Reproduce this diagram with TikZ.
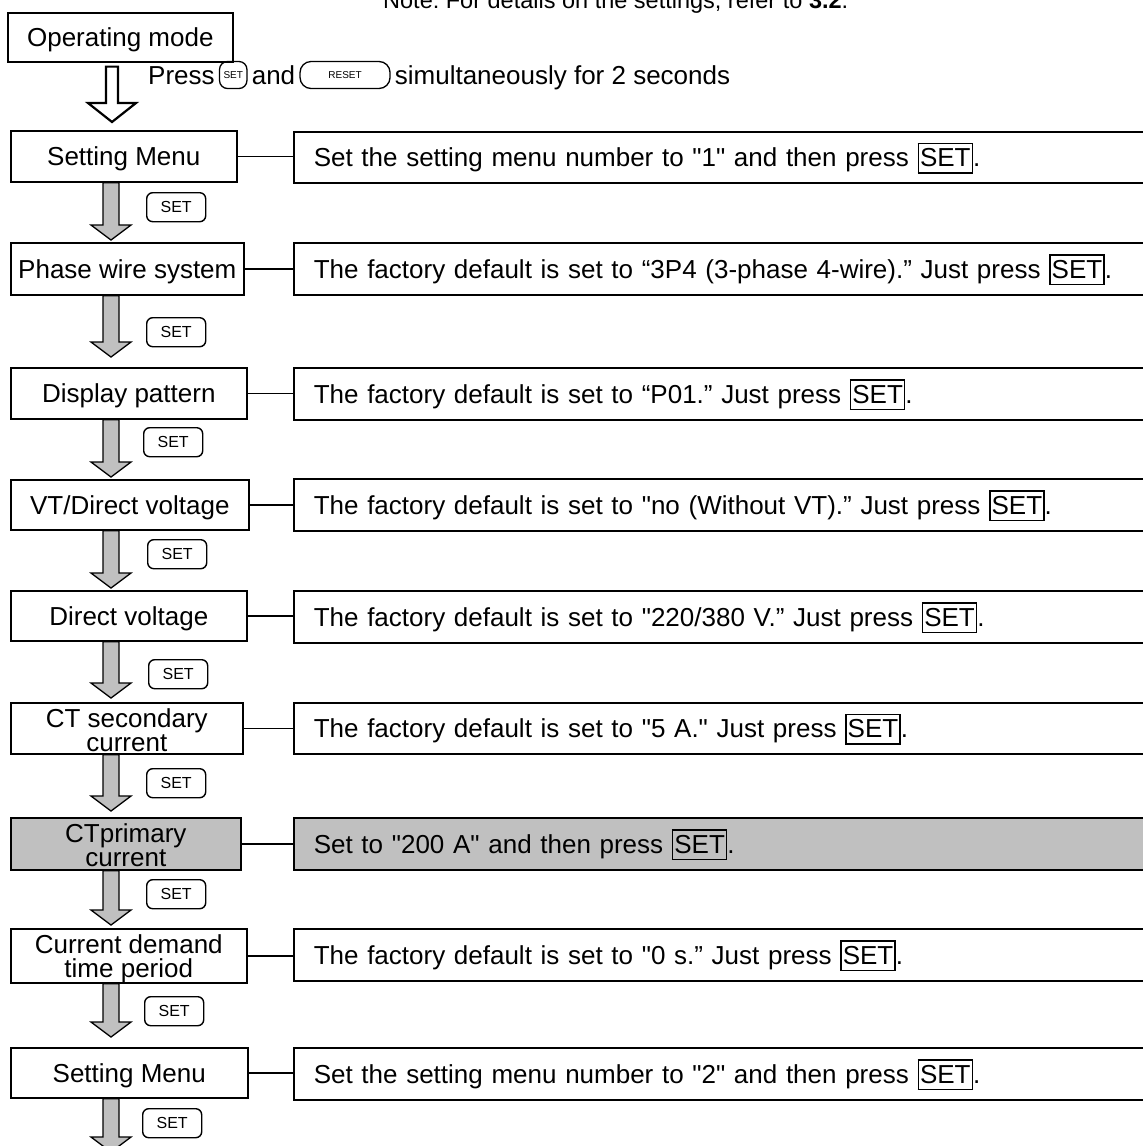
\documentclass[tikz,border=0pt]{standalone}
\usepackage{fontspec}
\setmainfont{Liberation Sans}[Ligatures=TeXOff]
\usetikzlibrary{calc}
\definecolor{fillgray}{RGB}{192,192,192}
\newcommand\keybox[1]{{\setlength\fboxsep{1pt}\setlength\fboxrule{1.5pt}\fbox{\rule[-4.5pt]{0pt}{26pt}#1}}}
\newcommand\garr[2]{%
  \path (sL |- #1.south) coordinate (gA);
  \draw[garrow] (gA) -- ++(16,0) -- (119,#2-15) -- (131,#2-15) -- (111,#2) -- (91,#2-15) -- (103,#2-15) -- cycle;}
\begin{document}
\frenchspacing
\begin{tikzpicture}[x=1pt,y=-1pt,
  font=\fontsize{26}{24}\selectfont,
  lbox/.style={draw, line width=1.6pt, rectangle, inner sep=0pt, anchor=north west, text height=19pt, text depth=0pt},
  rbox/.style={draw, line width=1.6pt, rectangle, inner xsep=20pt, inner ysep=0pt, anchor=north west, text width=840pt, align=left, text height=19pt, text depth=0pt},
  btn/.style={draw, line width=1.4pt, rounded corners=6pt, minimum width=59pt, minimum height=29pt, inner sep=0pt, font=\fontsize{16}{18}\selectfont, anchor=north west},
  sbtn/.style={draw, line width=1.3pt, rounded corners=8pt, minimum height=27pt, inner xsep=4pt, inner ysep=0pt, font=\fontsize{10}{11}\selectfont, anchor=west},
  txt/.style={inner sep=0pt, anchor=base west},
  ltxt/.style={inner sep=0pt, anchor=base},
  link/.style={line width=1.5pt},
  garrow/.style={draw=black, line width=1.3pt, fill=fillgray, line join=miter},
]
\useasboundingbox (0,0) rectangle (1143,1146);
\clip (0,0) rectangle (1143,1146);
\coordinate (sL) at (103,0);
\coordinate (sH) at (106,0);

% note
\node[txt, font=\fontsize{23.5}{26}\selectfont] (note) at (383,8) {Note: For details on the settings, refer to \textbf{3.2}.};

% operating mode
\node[lbox, minimum width=225pt, minimum height=49pt] (l0) at (7,12) {Operating mode};
\path (sH |- l0.south) coordinate (hA);
\draw[line width=2.2pt, fill=white, line join=miter] ($(hA)+(0,4)$) -- ++(12,0) -- (118,103) -- (136,103) -- (112,122) -- (88,103) -- (106,103) -- cycle;

% press line
\node[txt] (pr) at (148,84) {Press};
\node[sbtn] (ps) at ($(pr.base east)+(4,-9)$) {SET};
\node[txt] (pa) at ($(ps.east |- pr.base)+(4,0)$) {and};
\node[sbtn, minimum width=90pt, rounded corners=11pt] (pre) at ($(pa.base east)+(4,-9)$) {RESET};
\node[txt] (psim) at ($(pre.east |- pr.base)+(4,0)$) {simultaneously for 2 seconds};

% left boxes
\node[lbox, minimum width=226pt, minimum height=51pt] (l1) at (10,130) {Setting Menu};
\node[lbox, minimum width=233pt, minimum height=52pt] (l2) at (10,242) {Phase wire system};
\node[lbox, minimum width=236pt, minimum height=51pt] (l3) at (10,367) {Display pattern};
\node[lbox, minimum width=238pt, minimum height=50pt] (l4) at (10,479) {VT/Direct voltage};
\node[lbox, minimum width=236pt, minimum height=50pt] (l5) at (10,590) {Direct voltage};
\node[lbox, minimum width=232pt, minimum height=51pt] (l6) at (10,702) {};
\node[lbox, minimum width=230pt, minimum height=52pt, fill=fillgray] (l7) at (10,817) {};
\node[lbox, minimum width=236pt, minimum height=54pt] (l8) at (10,928) {};
\node[lbox, minimum width=237pt, minimum height=50pt] (l9) at (10,1047) {Setting Menu};

% right boxes
\node[rbox, minimum height=51pt] (r1) at (293,131) {Set the setting menu number to "1" and then press \keybox{SET}.};
\node[rbox, minimum height=52pt] (r2) at (293,242) {The factory default is set to “3P4 (3-phase 4-wire).” Just press \keybox{SET}.};
\node[rbox, minimum height=52pt] (r3) at (293,367) {The factory default is set to “P01.” Just press \keybox{SET}.};
\node[rbox, minimum height=52pt] (r4) at (293,478) {The factory default is set to "no (Without VT).” Just press \keybox{SET}.};
\node[rbox, minimum height=52pt] (r5) at (293,590) {The factory default is set to "220/380 V.” Just press \keybox{SET}.};
\node[rbox, minimum height=51pt] (r6) at (293,702) {The factory default is set to "5 A." Just press \keybox{SET}.};
\node[rbox, minimum height=52pt, fill=fillgray] (r7) at (293,817) {Set to "200 A" and then press \keybox{SET}.};
\node[rbox, minimum height=52pt] (r8) at (293,928) {The factory default is set to "0 s.” Just press \keybox{SET}.};
\node[rbox, minimum height=52pt] (r9) at (293,1047) {Set the setting menu number to "2" and then press \keybox{SET}.};

% connectors
\foreach \i in {1,...,9}{\draw[link] (l\i.east) -- (l\i.east -| r\i.west);}

% gray arrows
\garr{l1}{240}
\garr{l2}{357}
\garr{l3}{477}
\garr{l4}{588}
\garr{l5}{698}
\garr{l6}{811}
\garr{l7}{925}
\garr{l8}{1037}
\garr{l9}{1152}

% two-line texts
\node[ltxt] (l6a) at ($(l6.center)+(0,-1)$) {CT secondary};
\node[ltxt] (l6b) at ($(l6.center)+(0,23)$) {current};
\node[ltxt] (l7a) at ($(l7.center)+(0,-1)$) {CTprimary};
\node[ltxt] (l7b) at ($(l7.center)+(0,23)$) {current};
\node[ltxt] (l8a) at ($(l8.center)+(0,-2)$) {Current demand};
\node[ltxt] (l8b) at ($(l8.center)+(0,22)$) {time period};

% SET buttons
\node[btn] (b1) at (146,192) {SET};
\node[btn] (b2) at (146,317) {SET};
\node[btn] (b3) at (143,427) {SET};
\node[btn] (b4) at (147,539) {SET};
\node[btn] (b5) at (148,659) {SET};
\node[btn] (b6) at (146,768) {SET};
\node[btn] (b7) at (146,879) {SET};
\node[btn] (b8) at (144,996) {SET};
\node[btn] (b9) at (142,1108) {SET};
\end{tikzpicture}
\end{document}
